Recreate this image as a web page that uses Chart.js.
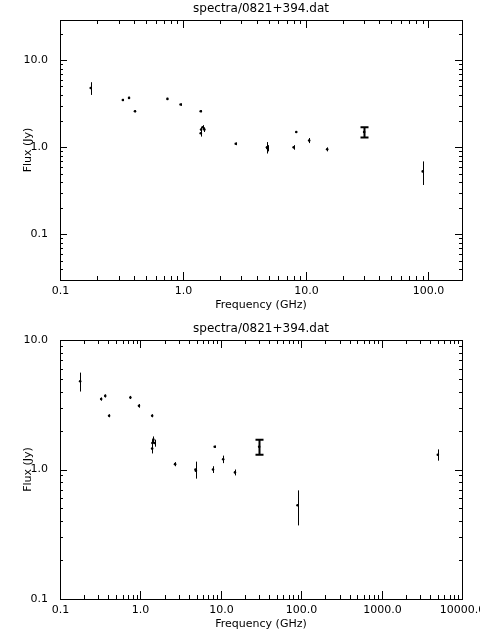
<!DOCTYPE html>
<html><head><script src="https://cdn.jsdelivr.net/npm/chart.js@4"></script>
<style>body{margin:0;background:#fff}canvas{display:block}</style></head>
<body><canvas id="c1" width="480" height="320"></canvas><canvas id="c2" width="480" height="320"></canvas>
<script>
const freq = [0.178,0.325,0.365,0.408,0.75,0.96,1.4,1.4,1.41,1.45,1.5,2.7,4.85,4.9,8.0,8.4,10.7,15,30,90];
const flux = [4.8,3.5,3.7,2.6,3.6,3.1,2.6,1.45,1.6,1.7,1.6,1.1,1.0,0.98,1.0,1.5,1.2,0.95,1.5,0.53];
const ferr = [0.8,0.1,0.1,0.07,0.1,0.1,0.07,0.12,0.1,0.1,0.1,0.04,0.15,0.08,0.06,0.03,0.08,0.05,0.2,0.16];
const freqExtra = [5000], fluxExtra = [1.3], ferrExtra = [0.13];
const capIdx = [18];
const title = 'spectra/0821+394.dat';
const xLabel = 'Frequency (GHz)', yLabel = 'Flux (Jy)';
const FONT = '11px "DejaVu Sans"';

function ticksPlugin(xmin,xmax,ymin,ymax){
 return {id:'tk',afterDraw(ch){
  const c=ch.ctx,a=ch.chartArea,xs=ch.scales.x,ys=ch.scales.y;
  c.save();c.strokeStyle='#000';c.lineWidth=1;
  c.strokeRect(a.left+0.5,a.top+0.5,a.right-a.left,a.bottom-a.top);
  c.beginPath();
  c.fillStyle='#000';c.font=FONT;c.textAlign='center';c.textBaseline='top';
  for(let e=-2;e<=5;e++)for(let m=1;m<10;m++){const v=m*Math.pow(10,e);
   if(v>=xmin*0.999&&v<=xmax*1.001){const p=Math.round(xs.getPixelForValue(v))+0.5,L=m==1?8:4;
    c.moveTo(p,a.bottom);c.lineTo(p,a.bottom-L);c.moveTo(p,a.top);c.lineTo(p,a.top+L);
    if(m==1)c.fillText(v.toFixed(1),p,a.bottom+6);}
   if(v>=ymin&&v<=ymax){const p=Math.round(ys.getPixelForValue(v))+0.5,L=m==1?7:3;
    c.moveTo(a.left,p);c.lineTo(a.left+L,p);c.moveTo(a.right,p);c.lineTo(a.right-L,p);}}
  c.stroke();
  ch.data.datasets.forEach(ds=>{ds.data.forEach((d,i)=>{
   const x=Math.round(xs.getPixelForValue(d.x))+0.5,y1=ys.getPixelForValue(d.y-d.e),y2=ys.getPixelForValue(d.y+d.e);
   const cap=ds.caps&&ds.caps.includes(i);
   c.lineWidth=cap?2:1;c.beginPath();c.moveTo(x,y1);c.lineTo(x,y2);
   if(cap){c.moveTo(x-4,y1);c.lineTo(x+4,y1);c.moveTo(x-4,y2);c.lineTo(x+4,y2);}
   c.stroke();});});
  c.font='12px "DejaVu Sans"';
  c.fillText(title,(a.left+a.right)/2,3);
  c.font=FONT;
  c.fillText(xLabel,(a.left+a.right)/2,a.bottom+20);
  c.translate(28,(a.top+a.bottom)/2);c.rotate(-Math.PI/2);c.textBaseline='middle';c.fillText(yLabel,0,0);
  c.restore();}};
}
function mk(id,xmin,xmax,ymin,ymax,xs,ys,es,caps,bottomH){
 const fmt=v=>{const l=Math.log10(v);return Math.abs(l-Math.round(l))<1e-6?v.toFixed(1):'';};
 const dec=(a,b)=>{const t=[];for(let e=-2;e<=5;e++){const v=Math.pow(10,e);if(v>=a*0.999&&v<=b*1.001)t.push({value:v});}return t;};
 new Chart(document.getElementById(id),{type:'scatter',
  data:{datasets:[{data:xs.map((x,i)=>({x,y:ys[i],e:es[i]})),caps,pointRadius:1.3,pointBackgroundColor:'#000',pointBorderWidth:0}]},
  options:{responsive:false,animation:false,layout:{padding:{top:20,right:18,left:0,bottom:0}},
   plugins:{legend:{display:false},tooltip:{enabled:false}},
   scales:{
    x:{type:'logarithmic',min:xmin,max:xmax,grid:{display:false},border:{display:false},
     afterFit:s=>{s.height=bottomH;},ticks:{display:false}},
    y:{type:'logarithmic',min:ymin,max:ymax,grid:{display:false},border:{display:false},
     afterBuildTicks:s=>{s.ticks=dec(ymin,ymax);},afterFit:s=>{s.width=60;},
     ticks:{callback:fmt,color:'#000',font:{family:'DejaVu Sans',size:11},autoSkip:false,padding:4}}}},
  plugins:[ticksPlugin(xmin,xmax,ymin,ymax)]});
}
mk('c1',0.1,188,0.03,29,freq,flux,ferr,capIdx,40);
mk('c2',0.1,10000,0.1,10,freq.concat(freqExtra),flux.concat(fluxExtra),ferr.concat(ferrExtra),capIdx,41);
</script></body></html>
